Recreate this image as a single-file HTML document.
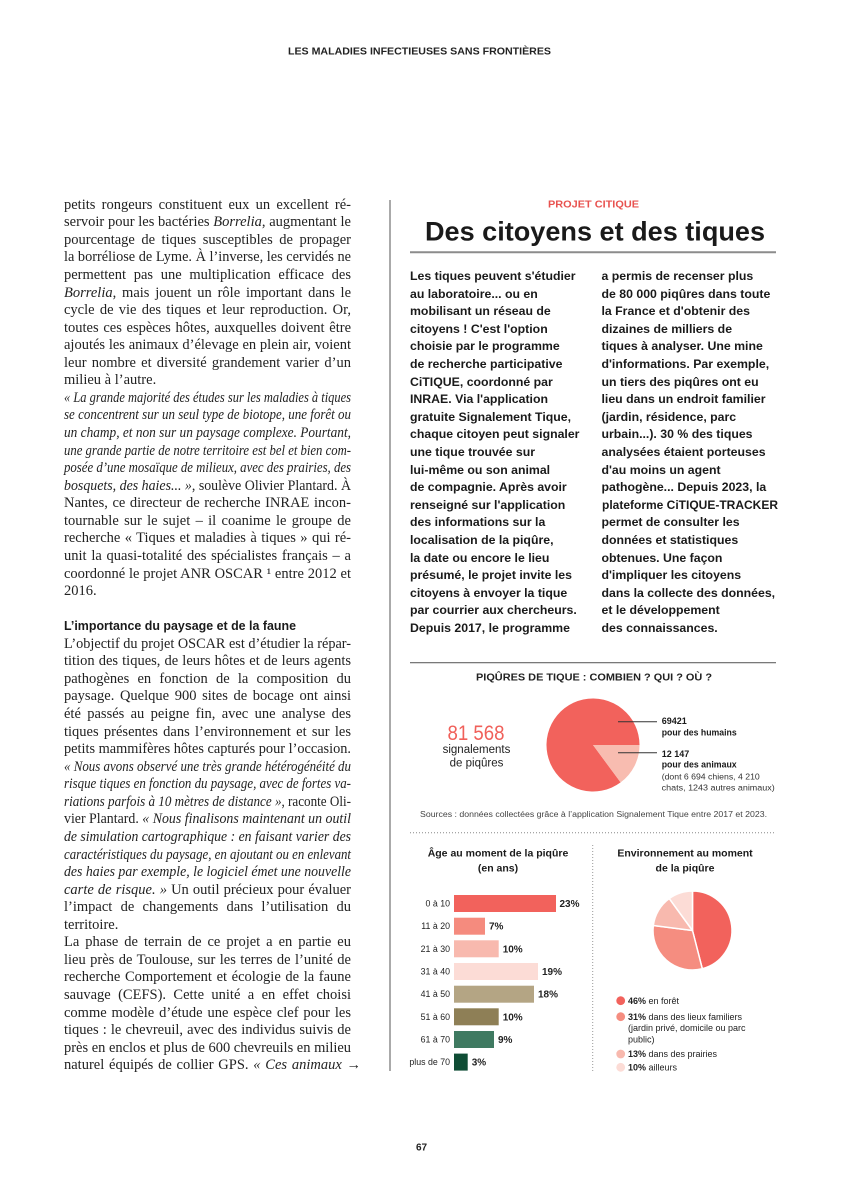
<!DOCTYPE html>
<html><head><meta charset="utf-8">
<style>
html,body{margin:0;padding:0;background:#fff;}
body{width:843px;height:1200px;position:relative;overflow:hidden;}
.col{position:absolute;}
.ser{font-family:"Liberation Serif",serif;font-size:14.5px;color:#222;}
.ser .ln{height:17.57px;line-height:17.57px;white-space:nowrap;}
.sb{font-family:"Liberation Sans",sans-serif;font-weight:bold;font-size:12.3px;color:#1a1a1a;}
.sb .ln{height:17.6px;line-height:17.6px;white-space:nowrap;}
.j{text-align:justify;text-align-last:justify;}
.r{text-align:left;}
.hd{font-family:"Liberation Sans",sans-serif;font-weight:bold;font-size:12.5px;color:#1a1a1a;}
svg text{font-family:"Liberation Sans",sans-serif;}
</style></head><body>

<svg width="843" height="1200" style="position:absolute;left:0;top:0">
  <!-- header -->
  <text x="288" y="54.6" font-size="10" font-weight="bold" fill="#222" textLength="263" lengthAdjust="spacingAndGlyphs">LES MALADIES INFECTIEUSES SANS FRONTIÈRES</text>
  <!-- vertical divider -->
  <line x1="390" y1="200" x2="390" y2="1071" stroke="#555" stroke-width="1"/>
  <!-- project box header -->
  <text x="548" y="207.6" font-size="10" font-weight="bold" fill="#e8524f" textLength="91" lengthAdjust="spacingAndGlyphs">PROJET CITIQUE</text>
  <text x="425" y="240.7" font-size="26.5" font-weight="bold" fill="#1a1a1a" textLength="340" lengthAdjust="spacingAndGlyphs">Des citoyens et des tiques</text>
  <line x1="410" y1="252.3" x2="776" y2="252.3" stroke="#8c8c8c" stroke-width="2"/>

  <!-- chart section -->
  <line x1="410" y1="662.7" x2="776" y2="662.7" stroke="#666" stroke-width="1.2"/>
  <text x="476" y="680.6" font-size="10" font-weight="bold" fill="#222" textLength="236" lengthAdjust="spacingAndGlyphs">PIQÛRES DE TIQUE : COMBIEN ? QUI ? OÙ ?</text>

  <path d="M593,745 L620.6,782.4 A46.5,46.5 0 1 1 639.5,745 Z" fill="#f2625c"/>
  <path d="M593,745 L639.5,745 A46.5,46.5 0 0 1 620.6,782.4 Z" fill="#f8bcb0"/>
  <line x1="618" y1="721.7" x2="657" y2="721.7" stroke="#333" stroke-width="1"/>
  <line x1="618" y1="752.7" x2="657" y2="752.7" stroke="#333" stroke-width="1"/>

  <text x="476" y="740" font-size="21" fill="#f0605a" text-anchor="middle" textLength="57" lengthAdjust="spacingAndGlyphs">81 568</text>
  <text x="476.5" y="753.2" font-size="11.5" fill="#1e1e1e" text-anchor="middle">signalements</text>
  <text x="476.5" y="766.4" font-size="11.5" fill="#1e1e1e" text-anchor="middle">de piqûres</text>

  <text x="661.7" y="724.2" font-size="9" font-weight="bold" fill="#1a1a1a">69421</text>
  <text x="661.7" y="735.6" font-size="9" font-weight="bold" fill="#1a1a1a" textLength="75" lengthAdjust="spacingAndGlyphs">pour des humains</text>
  <text x="661.7" y="757.2" font-size="9" font-weight="bold" fill="#1a1a1a">12 147</text>
  <text x="661.7" y="767.3" font-size="9" font-weight="bold" fill="#1a1a1a" textLength="75" lengthAdjust="spacingAndGlyphs">pour des animaux</text>
  <text x="661.7" y="779.3" font-size="8.7" fill="#333">(dont 6 694 chiens, 4 210</text>
  <text x="661.7" y="790.6" font-size="8.7" fill="#333" textLength="113" lengthAdjust="spacingAndGlyphs">chats, 1243 autres animaux)</text>

  <text x="420" y="816.8" font-size="8" fill="#444" textLength="347" lengthAdjust="spacingAndGlyphs">Sources : données collectées grâce à l’application Signalement Tique entre 2017 et 2023.</text>

  <line x1="410" y1="832.7" x2="776" y2="832.7" stroke="#888" stroke-width="1" stroke-dasharray="1,2"/>
  <line x1="592.7" y1="845" x2="592.7" y2="1072" stroke="#999" stroke-width="1" stroke-dasharray="1,2"/>

  <!-- bar chart -->
  <text x="498" y="856.6" font-size="10.5" font-weight="bold" fill="#1a1a1a" text-anchor="middle">Âge au moment de la piqûre</text>
  <text x="498" y="871.6" font-size="10.5" font-weight="bold" fill="#1a1a1a" text-anchor="middle">(en ans)</text>

  <g font-size="8.8" fill="#222" text-anchor="end">
    <text x="450" y="906.5">0 à 10</text>
    <text x="450" y="929.2">11 à 20</text>
    <text x="450" y="951.8">21 à 30</text>
    <text x="450" y="974.5">31 à 40</text>
    <text x="450" y="997.2">41 à 50</text>
    <text x="450" y="1019.8">51 à 60</text>
    <text x="450" y="1042.5">61 à 70</text>
    <text x="450" y="1065.1">plus de 70</text>
  </g>
  <rect x="454" y="895" width="102" height="17" fill="#f2625c"/>
  <rect x="454" y="917.7" width="31" height="17" fill="#f58b7e"/>
  <rect x="454" y="940.3" width="44.7" height="17" fill="#f8b9ae"/>
  <rect x="454" y="963" width="84" height="17" fill="#fcdcd6"/>
  <rect x="454" y="985.7" width="80" height="17" fill="#b4a584"/>
  <rect x="454" y="1008.3" width="44.7" height="17" fill="#8e7f56"/>
  <rect x="454" y="1031" width="40" height="17" fill="#3f7a61"/>
  <rect x="454" y="1053.6" width="13.7" height="17" fill="#0f4d35"/>
  <g font-size="10" font-weight="bold" fill="#222">
    <text x="559.5" y="907">23%</text>
    <text x="489" y="929.7">7%</text>
    <text x="502.7" y="952.3">10%</text>
    <text x="542" y="975">19%</text>
    <text x="538" y="997.7">18%</text>
    <text x="502.7" y="1020.3">10%</text>
    <text x="498" y="1043">9%</text>
    <text x="471.7" y="1065.6">3%</text>
  </g>

  <!-- environment pie -->
  <text x="685" y="856.6" font-size="10.5" font-weight="bold" fill="#1a1a1a" text-anchor="middle">Environnement au moment</text>
  <text x="685" y="871.6" font-size="10.5" font-weight="bold" fill="#1a1a1a" text-anchor="middle">de la piqûre</text>
  <g stroke="#fff" stroke-width="1.5" stroke-linejoin="round">
    <path d="M692.5,930.5 L692.5,891 A39.5,39.5 0 0 1 702.32,968.76 Z" fill="#f2625c"/>
    <path d="M692.5,930.5 L702.32,968.76 A39.5,39.5 0 0 1 653.31,925.55 Z" fill="#f58d80"/>
    <path d="M692.5,930.5 L653.31,925.55 A39.5,39.5 0 0 1 669.28,898.54 Z" fill="#f8b9ae"/>
    <path d="M692.5,930.5 L669.28,898.54 A39.5,39.5 0 0 1 692.5,891 Z" fill="#fcdcd6"/>
  </g>

  <circle cx="620.7" cy="1000.7" r="4.4" fill="#f2625c"/>
  <circle cx="620.7" cy="1016.7" r="4.4" fill="#f58d80"/>
  <circle cx="620.7" cy="1054" r="4.4" fill="#f8b9ae"/>
  <circle cx="620.7" cy="1067.3" r="4.4" fill="#fcdcd6"/>
  <g font-size="9" fill="#222">
    <text x="628" y="1003.8"><tspan font-weight="bold">46%</tspan> en forêt</text>
    <text x="628" y="1019.8"><tspan font-weight="bold">31%</tspan> dans des lieux familiers</text>
    <text x="628" y="1031.2">(jardin privé, domicile ou parc</text>
    <text x="628" y="1042.3">public)</text>
    <text x="628" y="1057.1"><tspan font-weight="bold">13%</tspan> dans des prairies</text>
    <text x="628" y="1070.4"><tspan font-weight="bold">10%</tspan> ailleurs</text>
  </g>

  <!-- page number -->
  <text x="421.5" y="1150.6" font-size="10" font-weight="bold" fill="#222" text-anchor="middle">67</text>
</svg>

<!-- left serif column -->
<div class="col ser" style="left:64px;top:196.7px;width:287px;">
<div class="ln j">petits rongeurs constituent eux un excellent ré-</div>
<div class="ln j">servoir pour les bactéries <i>Borrelia</i>, augmentant le</div>
<div class="ln j">pourcentage de tiques susceptibles de propager</div>
<div class="ln j">la borréliose de Lyme. À l’inverse, les cervidés ne</div>
<div class="ln j">permettent pas une multiplication efficace des</div>
<div class="ln j"><i>Borrelia</i>, mais jouent un rôle important dans le</div>
<div class="ln j">cycle de vie des tiques et leur reproduction. Or,</div>
<div class="ln j">toutes ces espèces hôtes, auxquelles doivent être</div>
<div class="ln j">ajoutés les animaux d’élevage en plein air, voient</div>
<div class="ln j">leur nombre et diversité grandement varier d’un</div>
<div class="ln r">milieu à l’autre.</div>
<div class="ln j"><i>« La grande majorité des études sur les maladies à tiques</i></div>
<div class="ln j"><i>se concentrent sur un seul type de biotope, une forêt ou</i></div>
<div class="ln j"><i>un champ, et non sur un paysage complexe. Pourtant,</i></div>
<div class="ln j"><i>une grande partie de notre territoire est bel et bien com-</i></div>
<div class="ln j"><i>posée d’une mosaïque de milieux, avec des prairies, des</i></div>
<div class="ln j"><i>bosquets, des haies... »</i>, soulève Olivier Plantard. À</div>
<div class="ln j">Nantes, ce directeur de recherche INRAE incon-</div>
<div class="ln j">tournable sur le sujet – il coanime le groupe de</div>
<div class="ln j">recherche « Tiques et maladies à tiques » qui ré-</div>
<div class="ln j">unit la quasi-totalité des spécialistes français – a</div>
<div class="ln j">coordonné le projet ANR OSCAR ¹ entre 2012 et</div>
<div class="ln r">2016.</div>
<div class="ln r">&nbsp;</div>
<div class="ln r hd" style="width:232px;">L’importance du paysage et de la faune</div>
<div class="ln j">L’objectif du projet OSCAR est d’étudier la répar-</div>
<div class="ln j">tition des tiques, de leurs hôtes et de leurs agents</div>
<div class="ln j">pathogènes en fonction de la composition du</div>
<div class="ln j">paysage. Quelque 900 sites de bocage ont ainsi</div>
<div class="ln j">été passés au peigne fin, avec une analyse des</div>
<div class="ln j">tiques présentes dans l’environnement et sur les</div>
<div class="ln j">petits mammifères hôtes capturés pour l’occasion.</div>
<div class="ln j"><i>« Nous avons observé une très grande hétérogénéité du</i></div>
<div class="ln j"><i>risque tiques en fonction du paysage, avec de fortes va-</i></div>
<div class="ln j"><i>riations parfois à 10 mètres de distance »</i>, raconte Oli-</div>
<div class="ln j">vier Plantard. <i>« Nous finalisons maintenant un outil</i></div>
<div class="ln j"><i>de simulation cartographique : en faisant varier des</i></div>
<div class="ln j"><i>caractéristiques du paysage, en ajoutant ou en enlevant</i></div>
<div class="ln j"><i>des haies par exemple, le logiciel émet une nouvelle</i></div>
<div class="ln j"><i>carte de risque. »</i> Un outil précieux pour évaluer</div>
<div class="ln j">l’impact de changements dans l’utilisation du</div>
<div class="ln r">territoire.</div>
<div class="ln j">La phase de terrain de ce projet a en partie eu</div>
<div class="ln j">lieu près de Toulouse, sur les terres de l’unité de</div>
<div class="ln j">recherche Comportement et écologie de la faune</div>
<div class="ln j">sauvage (CEFS). Cette unité a en effet choisi</div>
<div class="ln j">comme modèle d’étude une espèce clef pour les</div>
<div class="ln j">tiques : le chevreuil, avec des individus suivis de</div>
<div class="ln j">près en enclos et plus de 600 chevreuils en milieu</div>
<div class="ln j" style="width:297px;">naturel équipés de collier GPS. <i>« Ces animaux</i> →</div>
</div>

<!-- right bold column 1 -->
<div class="col sb" style="left:410px;top:268px;width:178px;">
<div class="ln r">Les tiques peuvent s'étudier</div>
<div class="ln r">au laboratoire... ou en</div>
<div class="ln r">mobilisant un réseau de</div>
<div class="ln r">citoyens ! C'est l'option</div>
<div class="ln r">choisie par le programme</div>
<div class="ln r">de recherche participative</div>
<div class="ln r">CiTIQUE, coordonné par</div>
<div class="ln r">INRAE. Via l'application</div>
<div class="ln r">gratuite Signalement Tique,</div>
<div class="ln r">chaque citoyen peut signaler</div>
<div class="ln r">une tique trouvée sur</div>
<div class="ln r">lui-même ou son animal</div>
<div class="ln r">de compagnie. Après avoir</div>
<div class="ln r">renseigné sur l'application</div>
<div class="ln r">des informations sur la</div>
<div class="ln r">localisation de la piqûre,</div>
<div class="ln r">la date ou encore le lieu</div>
<div class="ln r">présumé, le projet invite les</div>
<div class="ln r">citoyens à envoyer la tique</div>
<div class="ln r">par courrier aux chercheurs.</div>
<div class="ln r">Depuis 2017, le programme</div>
</div>

<!-- right bold column 2 -->
<div class="col sb" style="left:601.5px;top:268px;width:176px;">
<div class="ln r">a permis de recenser plus</div>
<div class="ln r">de 80 000 piqûres dans toute</div>
<div class="ln r">la France et d'obtenir des</div>
<div class="ln r">dizaines de milliers de</div>
<div class="ln r">tiques à analyser. Une mine</div>
<div class="ln r">d'informations. Par exemple,</div>
<div class="ln r">un tiers des piqûres ont eu</div>
<div class="ln r">lieu dans un endroit familier</div>
<div class="ln r">(jardin, résidence, parc</div>
<div class="ln r">urbain...). 30 % des tiques</div>
<div class="ln r">analysées étaient porteuses</div>
<div class="ln r">d'au moins un agent</div>
<div class="ln r">pathogène... Depuis 2023, la</div>
<div class="ln r">plateforme CiTIQUE-TRACKER</div>
<div class="ln r">permet de consulter les</div>
<div class="ln r">données et statistiques</div>
<div class="ln r">obtenues. Une façon</div>
<div class="ln r">d'impliquer les citoyens</div>
<div class="ln r">dans la collecte des données,</div>
<div class="ln r">et le développement</div>
<div class="ln r">des connaissances.</div>
</div>

<script>
(function(){
  var els = document.querySelectorAll('.ln');
  for (var i = 0; i < els.length; i++) {
    var el = els[i];
    var W = el.clientWidth;
    var sp = document.createElement('span');
    sp.style.whiteSpace = 'nowrap';
    while (el.firstChild) sp.appendChild(el.firstChild);
    el.appendChild(sp);
    var isJ = el.classList.contains('j');
    el.style.textAlign = 'left';
    el.style.textAlignLast = 'left';
    var w = sp.getBoundingClientRect().width;
    if (w > W + 0.5) {
      sp.style.display = 'inline-block';
      sp.style.transformOrigin = '0 50%';
      sp.style.transform = 'scaleX(' + (W / w) + ')';
    } else if (isJ) {
      var m = sp.textContent.match(/[ \u00a0]/g);
      var n = m ? m.length : 0;
      if (n > 0) sp.style.wordSpacing = ((W - w) / n) + 'px';
    }
  }
})();
</script>
</body></html>
